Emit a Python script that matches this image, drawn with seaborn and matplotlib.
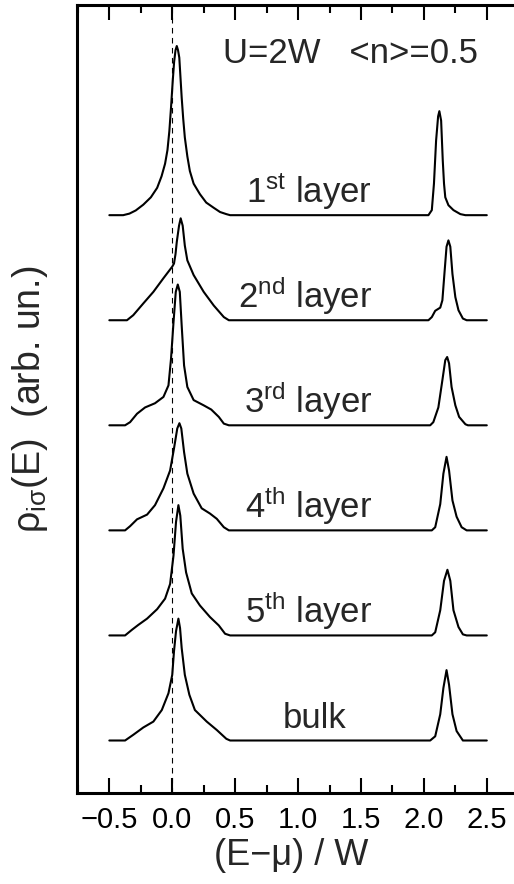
import matplotlib
matplotlib.use("Agg")
import matplotlib.pyplot as plt
from matplotlib.ticker import MultipleLocator
import pandas as pd
import seaborn as sns

# layer-resolved spectral densities (E in units of W)
layer_names = ['1st', '2nd', '3rd', '4th', '5th', 'bulk']
layer_labels = ['1$^{\\mathrm{st}}$ layer', '2$^{\\mathrm{nd}}$ layer', '3$^{\\mathrm{rd}}$ layer',
                '4$^{\\mathrm{th}}$ layer', '5$^{\\mathrm{th}}$ layer', 'bulk']
offsets = [5.5, 4.5, 3.5, 2.5, 1.5, 0.5]

E_1st = [-0.50, -0.39, -0.34, -0.29, -0.23, -0.17, -0.12, -0.085, -0.057, -0.038, -0.023, -0.01,
         0.004, 0.015, 0.026, 0.036, 0.046, 0.056, 0.065, 0.075, 0.087, 0.10, 0.12, 0.14, 0.17,
         0.22, 0.27, 0.33, 0.38, 0.43, 0.46,
         2.036, 2.063, 2.08, 2.097, 2.113, 2.123, 2.137, 2.15, 2.16, 2.17, 2.195, 2.235, 2.29,
         2.33, 2.50]
rho_1st = [0, 0, 0.015, 0.045, 0.10, 0.17, 0.26, 0.37, 0.49, 0.62, 0.80, 1.02,
           1.28, 1.46, 1.57, 1.61, 1.57, 1.50, 1.32, 1.12, 0.92, 0.74, 0.56, 0.42, 0.30,
           0.20, 0.12, 0.07, 0.03, 0.01, 0,
           0, 0.048, 0.30, 0.71, 0.94, 0.99, 0.90, 0.52, 0.30, 0.17, 0.095, 0.048, 0.01,
           0, 0]

E_2nd = [-0.50, -0.36, -0.31, -0.23, -0.15, -0.07, 0.0, 0.014, 0.026, 0.036, 0.054, 0.067, 0.083,
         0.10, 0.12, 0.17, 0.25, 0.33, 0.41, 0.45,
         2.036, 2.063, 2.09, 2.13, 2.147, 2.163, 2.18, 2.195, 2.21, 2.227, 2.25, 2.275, 2.31,
         2.34, 2.50]
rho_2nd = [0, 0, 0.048, 0.16, 0.27, 0.40, 0.51, 0.54, 0.63, 0.745, 0.90, 0.97, 0.90,
           0.71, 0.57, 0.43, 0.27, 0.14, 0.03, 0,
           0, 0.03, 0.09, 0.12, 0.19, 0.44, 0.70, 0.76, 0.70, 0.44, 0.22, 0.095, 0.016,
           0, 0]

E_3rd = [-0.50, -0.375, -0.335, -0.28, -0.216, -0.137, -0.07, -0.03, -0.01, 0.01, 0.028, 0.044,
         0.06, 0.075, 0.094, 0.12, 0.17, 0.25, 0.31, 0.37, 0.41, 0.45,
         2.05, 2.075, 2.115, 2.147, 2.17, 2.185, 2.20, 2.22, 2.25, 2.28, 2.33, 2.35, 2.50]
rho_3rd = [0, 0, 0.03, 0.11, 0.17, 0.21, 0.27, 0.38, 0.63, 0.98, 1.27, 1.34,
           1.27, 0.95, 0.57, 0.365, 0.24, 0.19, 0.15, 0.08, 0.016, 0,
           0, 0.03, 0.17, 0.43, 0.62, 0.65, 0.59, 0.365, 0.19, 0.08, 0.01, 0, 0]

E_4th = [-0.50, -0.375, -0.335, -0.28, -0.20, -0.137, -0.07, -0.017, 0.014, 0.04, 0.057, 0.072,
         0.094, 0.12, 0.17, 0.234, 0.30, 0.354, 0.41, 0.45,
         2.063, 2.09, 2.13, 2.155, 2.18, 2.20, 2.227, 2.26, 2.30, 2.34, 2.50]
rho_4th = [0, 0, 0.04, 0.105, 0.15, 0.24, 0.40, 0.57, 0.78, 0.97, 1.02, 0.97,
           0.745, 0.54, 0.35, 0.21, 0.16, 0.11, 0.03, 0,
           0, 0.03, 0.25, 0.54, 0.70, 0.57, 0.285, 0.13, 0.03, 0, 0]

E_5th = [-0.50, -0.375, -0.32, -0.27, -0.20, -0.12, -0.057, -0.017, 0.01, 0.03, 0.049, 0.064,
         0.083, 0.11, 0.155, 0.22, 0.30, 0.37, 0.42, 0.46,
         2.063, 2.09, 2.13, 2.16, 2.187, 2.21, 2.235, 2.275, 2.31, 2.34, 2.50]
rho_5th = [0, 0, 0.054, 0.10, 0.16, 0.25, 0.35, 0.49, 0.76, 1.08, 1.24, 1.14,
           0.825, 0.60, 0.40, 0.285, 0.175, 0.095, 0.016, 0,
           0, 0.03, 0.24, 0.52, 0.625, 0.52, 0.24, 0.08, 0.01, 0, 0]

E_bulk = [-0.50, -0.375, -0.31, -0.23, -0.15, -0.083, -0.03, 0.0, 0.014, 0.03, 0.049, 0.062,
          0.075, 0.10, 0.136, 0.18, 0.274, 0.354, 0.43, 0.46,
          2.05, 2.09, 2.13, 2.155, 2.18, 2.20, 2.227, 2.26, 2.31, 2.50]
rho_bulk = [0, 0, 0.054, 0.124, 0.18, 0.29, 0.45, 0.625, 0.85, 1.04, 1.16, 1.07,
            0.88, 0.625, 0.435, 0.29, 0.18, 0.10, 0.016, 0,
            0, 0.04, 0.25, 0.50, 0.67, 0.53, 0.25, 0.09, 0, 0]

energies = [E_1st, E_2nd, E_3rd, E_4th, E_5th, E_bulk]
densities = [rho_1st, rho_2nd, rho_3rd, rho_4th, rho_5th, rho_bulk]

frames = []
for name, e, rho, off in zip(layer_names, energies, densities, offsets):
    frames.append(pd.DataFrame({'E': e, 'y': [r + off for r in rho], 'layer': name}))
df = pd.concat(frames, ignore_index=True)

sns.set_style('ticks')
plt.rcParams['font.family'] = ['Liberation Sans', 'DejaVu Sans']
plt.rcParams['mathtext.fontset'] = 'custom'
plt.rcParams['mathtext.rm'] = 'Liberation Sans'
plt.rcParams['mathtext.it'] = 'Liberation Sans:italic'
plt.rcParams.update({
    'xtick.direction': 'in', 'xtick.top': True, 'xtick.bottom': True,
    'xtick.major.size': 0, 'xtick.minor.size': 0,
    'xtick.color': 'black', 'xtick.major.pad': 9,
    'axes.edgecolor': 'black', 'axes.linewidth': 2.2,
})

fig = plt.figure(figsize=(5.14, 8.84), dpi=100)
ax = fig.add_axes([0.1498, 0.1029, 1.045 - 0.1498, 0.8914])

sns.lineplot(data=df, x='E', y='y', hue='layer', palette=['black'] * 6, estimator=None,
             sort=False, legend=False, linewidth=1.5, ax=ax)
ax.axvline(0.0, color='black', lw=0.8, ls=(0, (5, 4)), zorder=1)

ax.set_xlim(-0.757, 2.9)
ax.set_ylim(0, 7.5)
ax.xaxis.set_major_locator(MultipleLocator(0.5))
ax.xaxis.set_minor_locator(MultipleLocator(0.25))
ax.set_yticks([])

# tick marks as line segments at the locator positions, top and bottom, pointing inward
x0, x1 = ax.get_xlim()
major = [v for v in ax.xaxis.get_majorticklocs() if x0 <= v <= x1]
minor = [v for v in ax.xaxis.get_minorticklocs() if x0 <= v <= x1 and v not in major]
trans = ax.get_xaxis_transform()
for locs, ln in [(major, 0.019), (minor, 0.0102)]:
    for v in locs:
        ax.plot([v, v], [0, ln], transform=trans, color='black', lw=1.5,
                clip_on=False, zorder=10, solid_capstyle='butt')
        ax.plot([v, v], [1 - ln, 1], transform=trans, color='black', lw=1.5,
                clip_on=False, zorder=10, solid_capstyle='butt')

ax.set_xlabel('(E\u2212\u03bc) / W', fontsize=26)
ax.xaxis.set_label_coords(0.466, -0.057)
ax.set_ylabel('\u03c1$_{\\mathrm{i\u03c3}}$(E)  (arb. un.)', fontsize=27)
ax.yaxis.set_label_coords(-0.058, 0.5)

for lab, off in zip(layer_labels, offsets):
    if lab == 'bulk':
        ax.text(1.135, off + 0.12, lab, fontsize=25, ha='center', va='baseline')
    else:
        ax.text(1.59, off + 0.12, lab, fontsize=25, ha='right', va='baseline')

ax.text(0.40, 6.95, 'U=2W   <n>=0.5', fontsize=25, ha='left', va='baseline')

for lbl in ax.get_xticklabels():
    lbl.set_fontsize(21)
ax.xaxis.set_tick_params(labelsize=21, length=0)

fig.savefig('out.png', dpi=100)
